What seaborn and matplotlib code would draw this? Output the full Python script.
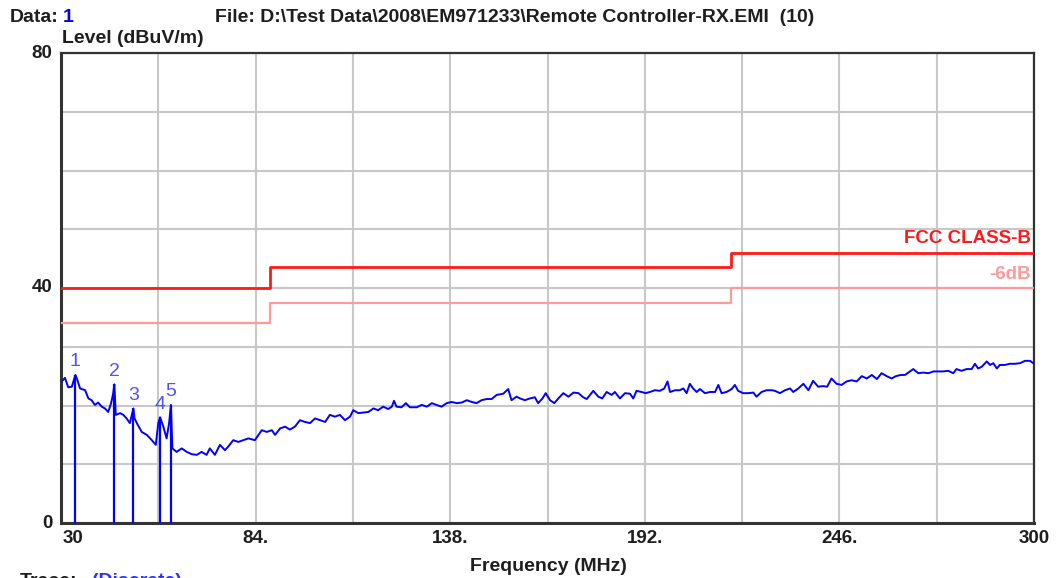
import matplotlib
matplotlib.use("Agg")
import matplotlib.pyplot as plt
import seaborn as sns
import pandas as pd

# ---------------- data ----------------
trace_freq = [
    30.2, 31.1, 32.0, 33.0, 34.0, 34.4, 35.3, 36.7, 37.6, 38.5, 39.4, 40.3, 41.3, 42.2, 43.1,
    43.9, 44.5, 44.8, 45.2, 46.4, 47.3, 48.2, 49.1, 49.8, 50.1, 50.4, 51.3, 52.4, 53.8, 55.2,
    56.3, 57.0, 57.5, 57.9, 58.4, 59.3, 60.0, 60.5, 60.9, 62.1, 63.5, 64.9, 66.3, 67.7, 69.0,
    70.4, 71.3, 72.7, 74.1, 75.5, 76.4, 77.8, 79.2, 80.6, 82.0, 83.8, 85.7, 87.1, 88.5, 89.4,
    90.8, 92.2, 93.5, 94.9, 96.3, 97.7, 99.1, 100.5, 101.9, 103.3, 104.6, 106.0, 107.4, 108.8,
    110.2, 111.1, 112.5, 113.9, 115.3, 116.7, 118.0, 119.4, 120.8, 121.8, 122.4, 123.1, 124.5,
    125.7, 126.8, 128.7, 130.1, 131.5, 132.9, 134.2, 135.6, 137.0, 138.4, 139.8, 141.2, 142.6,
    144.0, 145.3, 146.7, 148.1, 149.5, 150.9, 152.7, 154.1, 155.0, 156.4, 157.4, 158.7, 160.1,
    161.5, 162.4, 163.6, 164.5, 165.7, 166.9, 168.0, 169.4, 170.8, 172.2, 173.6, 174.9, 175.9,
    177.7, 179.1, 180.2, 181.4, 182.8, 183.7, 185.1, 186.5, 187.9, 188.8, 189.7, 191.1, 192.2,
    193.4, 194.8, 196.2, 197.4, 198.3, 199.0, 200.4, 201.7, 202.7, 203.6, 204.5, 205.4, 206.4,
    207.3, 208.7, 210.1, 211.5, 212.4, 213.3, 214.7, 216.1, 217.0, 217.9, 219.3, 220.7, 222.1,
    223.0, 224.4, 225.8, 227.2, 228.1, 229.5, 230.9, 232.3, 233.2, 234.6, 236.0, 237.4, 238.7,
    240.1, 241.5, 242.6, 243.8, 245.2, 246.6, 248.0, 249.4, 250.8, 252.2, 253.6, 255.0, 256.4,
    257.7, 259.1, 260.5, 261.7, 263.0, 264.2, 265.6, 266.5, 267.9, 269.3, 270.7, 272.1, 273.4,
    274.8, 276.2, 277.6, 278.5, 279.9, 281.3, 282.7, 283.6, 284.5, 285.5, 286.9, 287.8, 288.7,
    289.7, 290.5, 291.9, 293.3, 294.7, 296.1, 297.5, 298.9, 299.8,
]
trace_level = [
    24.1, 24.7, 23.1, 23.2, 25.2, 24.6, 22.9, 22.6, 21.2, 20.9, 20.1, 20.5, 19.8, 19.5, 18.9,
    20.4, 22.1, 23.6, 18.4, 18.7, 18.4, 17.8, 17.0, 18.7, 19.5, 17.8, 16.7, 15.5, 15.0, 14.1,
    13.3, 17.0, 18.0, 17.3, 16.4, 14.4, 17.0, 20.1, 12.7, 12.1, 12.7, 12.1, 11.7, 11.6, 12.1,
    11.6, 12.7, 11.6, 13.3, 12.4, 13.0, 14.1, 13.8, 14.1, 14.4, 14.1, 15.8, 15.5, 15.8, 15.0,
    16.1, 16.4, 15.9, 16.4, 17.5, 17.2, 17.0, 17.8, 17.5, 17.2, 18.4, 18.1, 18.4, 17.5,
    18.1, 19.2, 18.7, 18.8, 18.9, 19.5, 19.2, 19.8, 19.4, 19.8, 20.8, 19.8, 19.7,
    20.4, 19.7, 19.7, 20.1, 19.8, 20.4, 20.1, 19.8, 20.4, 20.6, 20.4, 20.5, 20.9,
    20.6, 20.4, 20.9, 21.1, 21.1, 21.8, 22.0, 22.8, 20.9, 21.5, 21.2, 20.9, 21.2,
    21.4, 20.4, 21.2, 22.1, 20.9, 20.4, 21.2, 22.1, 21.5, 22.2, 22.1, 21.4, 21.1,
    22.5, 21.5, 21.2, 22.3, 21.8, 22.3, 21.2, 22.1, 22.0, 21.2, 22.5, 22.3, 22.1,
    22.3, 22.6, 22.5, 22.9, 24.1, 22.3, 22.6, 22.6, 22.9, 22.1, 23.7, 22.9, 22.3,
    22.8, 22.1, 22.3, 22.3, 23.5, 22.1, 22.3, 22.8, 23.5, 22.5, 22.1, 22.1, 22.2,
    21.5, 22.3, 22.6, 22.6, 22.5, 22.1, 22.6, 22.9, 22.3, 22.9, 23.7, 22.6, 24.2,
    23.2, 23.3, 23.2, 24.6, 23.7, 23.5, 24.1, 24.3, 24.1, 25.0, 24.6, 25.2, 24.5,
    25.5, 25.0, 24.6, 25.0, 25.2, 25.2, 25.8, 26.2, 25.5, 25.6, 25.5, 25.8, 25.8,
    25.8, 25.9, 25.5, 26.2, 25.9, 26.2, 26.2, 27.1, 26.3, 26.6, 27.5, 26.9, 27.2,
    26.3, 26.9, 26.9, 27.1, 27.1, 27.2, 27.6, 27.6, 27.2,
]

marker_no = ["1", "2", "3", "4", "5"]
marker_freq = [34.0, 44.8, 50.1, 57.5, 60.5]
marker_level = [25.2, 23.6, 19.5, 18.0, 20.1]

limit_freq = [30, 88, 216, 300]
limit_level = [40.0, 43.5, 46.0, 46.0]
limit6_level = [34.0, 37.5, 40.0, 40.0]

xtick_vals = [30, 84, 138, 192, 246, 300]
xtick_labels = ["30", "84.", "138.", "192.", "246.", "300"]
ytick_vals = [0, 40, 80]

# ---------------- figure ----------------
sns.set_theme(style="white")
plt.rcParams["font.family"] = ["Liberation Sans", "DejaVu Sans"]

W, H = 1056, 578
TXT = "#1e1e1e"
fig = plt.figure(figsize=(W / 100, H / 100), dpi=100)
fig.patch.set_facecolor("white")
ax = fig.add_axes([61 / W, 1 - 523 / H, (1034 - 61) / W, (523 - 53) / H])
ax.set_facecolor("white")

trace_df = pd.DataFrame({"freq": trace_freq, "level": trace_level})
lim_df = pd.DataFrame({"freq": limit_freq, "limit": limit_level, "limit6": limit6_level})

sns.lineplot(data=lim_df, x="freq", y="limit6", ax=ax, color="#ff9a9a", lw=1.6,
             drawstyle="steps-post", estimator=None, zorder=3)
sns.lineplot(data=lim_df, x="freq", y="limit", ax=ax, color="#ff1a1a", lw=2.0,
             drawstyle="steps-post", estimator=None, zorder=4)
sns.lineplot(data=trace_df, x="freq", y="level", ax=ax, color="#0000ff", lw=1.4,
             estimator=None, zorder=5)
ax.vlines(marker_freq, 0, marker_level, colors="#0000ff", lw=1.6, zorder=5)
for n, f, l in zip(marker_no, marker_freq, marker_level):
    ax.annotate(n, (f, l), xytext=(0, 9.5), textcoords="offset points",
                ha="center", va="center", color="#5050ff", fontsize=14, zorder=6)

ax.set_xlim(30, 300)
ax.set_ylim(0, 80)
ax.set_xticks(list(range(30, 301, 27)))
ax.set_yticks(list(range(0, 81, 10)))
ax.grid(True, color="#c8c8c8", lw=1.5)
ax.set_axisbelow(True)
ax.tick_params(length=0)
ax.set_xticklabels([])
ax.set_yticklabels([])

xtr = ax.get_xaxis_transform()
for v, t in zip(xtick_vals, xtick_labels):
    if v == 30:
        ax.text(v + 0.5, -0.015, t, ha="left", va="top", transform=xtr,
                fontsize=13.5, fontweight="bold", color=TXT)
    else:
        ax.text(v, -0.015, t, ha="center", va="top", transform=xtr,
                fontsize=13.5, fontweight="bold", color=TXT)
ytr = ax.get_yaxis_transform()
for v in ytick_vals:
    ax.text(-0.009, v, str(v), ha="right", va="center", transform=ytr,
            fontsize=13.5, fontweight="bold", color=TXT)

for s in ax.spines.values():
    s.set_color("#333333")
    s.set_linewidth(1.6)
ax.spines["left"].set_linewidth(2.2)
ax.spines["bottom"].set_linewidth(2.2)

ax.set_xlabel("")
ax.set_ylabel("")

# limit labels
ax.text(299, 46.9, "FCC CLASS-B", ha="right", va="bottom", color="#ff1a1a",
        fontsize=13.5, fontweight="bold")
ax.text(299, 40.9, "-6dB", ha="right", va="bottom", color="#ff9a9a",
        fontsize=13.5, fontweight="bold")

# header / footer texts
HF = 14
fig.text(10 / W, 1 - 22 / H, "Data:", fontsize=HF, fontweight="bold",
         color=TXT, va="baseline")
fig.text(63 / W, 1 - 22 / H, "1", fontsize=HF, fontweight="bold",
         color="#0000ee", va="baseline")
fig.text(215 / W, 1 - 22 / H,
         "File: D:\\Test Data\\2008\\EM971233\\Remote Controller-RX.EMI  (10)",
         fontsize=HF, fontweight="bold", color=TXT, va="baseline")
fig.text(62 / W, 1 - 43 / H, "Level (dBuV/m)", fontsize=HF, fontweight="bold",
         color=TXT, va="baseline")
fig.text(548 / W, 1 - 571 / H, "Frequency (MHz)", fontsize=HF,
         fontweight="bold", color=TXT, ha="center", va="baseline")
fig.text(20 / W, 1 - 586 / H, "Trace:", fontsize=HF, fontweight="bold",
         color=TXT, va="baseline")
fig.text(92 / W, 1 - 586 / H, "(Discrete)", fontsize=HF, fontweight="bold",
         color="#3030ee", va="baseline")

fig.savefig("out.png", dpi=100, facecolor="white")
